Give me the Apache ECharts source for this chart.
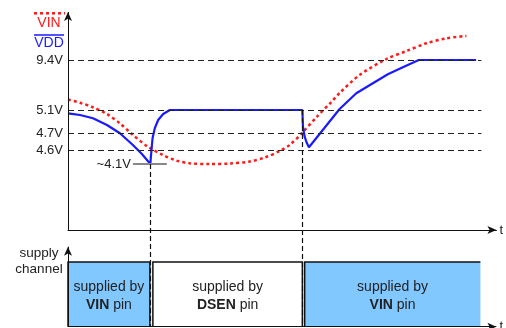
<!DOCTYPE html>
<html>
<head>
<meta charset="utf-8">
<script src="https://cdn.jsdelivr.net/npm/echarts@6/dist/echarts.min.js"></script>
<style>
html,body{margin:0;padding:0;background:#fff;}
#chart{width:506px;height:328px;}
</style>
</head>
<body>
<div id="chart"></div>
<script>
// time (arbitrary units) and level (arbitrary vertical units, 0 = upper time axis)
const vinT = [0,12,25,39,52,65,80,95,109,122,142,162,182,197,212,222,235,249,264,272,292,319,339,359,379,399];
const vinV = [130.5,127.3,122.7,116,106.7,95,83.3,75,69.3,66.7,66,66.5,68.5,72.5,79,85,97.7,113,128.3,137,155,171,179,186.7,191.7,194];
const vddT = [0,12,25,39,52,65,74,82.5,83,84.7,87,90.3,95.3,102,234.7,235.3,237,239.3,241.3,272,288.7,305.3,320.3,335.3,351.3,408.7];
const vddV = [116.7,115,111.7,105,96.7,85,76,66,73.3,92,102,110,116,120,120,103.3,93.3,86.7,82.7,121,136.7,146.7,155.7,162.7,170,170];

const levelValues = [170,120,97,80];
const levelLabels = ['9.4V','5.1V','4.7V','4.6V'];
const levelEnd = 414;
const minLevel = 66;
const minLabel = '~4.1V';
const minMarkStart = 65, minMarkEnd = 99;
const switchTimes = [82.7, 234.7];
const switchFrom = [66, 120];

const boxStart = [0, 85, 237];
const boxEnd = [82, 234.7, 413];
const boxSource = ['VIN', 'DSEN', 'VIN'];
const boxTop = -32, boxBottom = -96.7;
const boxFill = ['#80c8ff', '#ffffff', '#80c8ff'];

const FONT = 'Liberation Sans, Arial, sans-serif';
const chart = echarts.init(document.getElementById('chart'));

const refLines = [];
levelValues.forEach((v, i) => {
  refLines.push([
    {coord:[0, v], label:{show:true, position:'start', formatter: levelLabels[i], color:'#222', fontSize:13, fontFamily:FONT, distance:5}},
    {coord:[levelEnd, v]}
  ]);
});
refLines.push([
  {coord:[minMarkStart, minLevel], lineStyle:{type:'solid', color:'#888', width:2}, label:{show:true, position:'start', formatter:minLabel, color:'#222', fontSize:13, fontFamily:FONT, distance:2}},
  {coord:[minMarkEnd, minLevel]}
]);
switchTimes.forEach((t, i) => {
  refLines.push([
    {coord:[t, switchFrom[i]], lineStyle:{type:[5,3], color:'#111', width:1.2}},
    {coord:[t, boxBottom]}
  ]);
});

const axisLines = [
  [{coord:[0,0]}, {coord:[0,218]}],
  [{coord:[0,boxBottom]}, {coord:[0,-16.7]}],
  [{coord:[0,boxBottom]}, {coord:[429,boxBottom], label:{show:true, position:'end', formatter:'t', color:'#222', fontSize:13, fontFamily:FONT, distance:3}}]
];

chart.setOption({
  animation:false,
  grid:{left:68, right:9, top:10, bottom:0},
  xAxis:{type:'value', min:0, max:429,
    axisLine:{show:true, onZero:true, symbol:['none','arrow'], symbolSize:[6,9], lineStyle:{color:'#111', width:1}},
    axisTick:{show:false}, axisLabel:{show:false}, splitLine:{show:false},
    name:'t', nameLocation:'end', nameGap:3, nameTextStyle:{color:'#222', fontSize:13, fontFamily:FONT}},
  yAxis:{type:'value', min:-98, max:220, show:false, splitLine:{show:false}},
  graphic:[
    {type:'line', shape:{x1:34, y1:13.3, x2:65, y2:13.3}, style:{stroke:'#ff1a1a', lineWidth:2.5, lineDash:[3,3]}},
    {type:'text', x:49, y:23, style:{text:'VIN', fill:'#ff1a1a', font:'14px '+FONT, align:'center', verticalAlign:'middle'}},
    {type:'line', shape:{x1:34, y1:35, x2:64, y2:35}, style:{stroke:'#1a1aff', lineWidth:1.5}},
    {type:'text', x:49, y:43.5, style:{text:'VDD', fill:'#1a1aff', font:'14px '+FONT, align:'center', verticalAlign:'middle'}},
    {type:'text', x:39, y:253, style:{text:'supply', fill:'#222', font:'13.5px '+FONT, align:'center', verticalAlign:'middle'}},
    {type:'text', x:39, y:269, style:{text:'channel', fill:'#222', font:'13.5px '+FONT, align:'center', verticalAlign:'middle'}}
  ],
  series:[
    {type:'custom', z:1, silent:true, clip:false,
      data: boxStart.map((s,i)=>[s, boxEnd[i], i]),
      renderItem:function(params, api){
        const i = api.value(2);
        const p0 = api.coord([api.value(0), boxTop]);
        const p1 = api.coord([api.value(1), boxBottom]);
        const pts = [[p0[0], p1[1]], [p0[0], p0[1]], [p1[0], p0[1]]];
        if (i < boxStart.length - 1) pts.push([p1[0], p1[1]]);
        const cx = (p0[0]+p1[0])/2, cy = (p0[1]+p1[1])/2 + 2;
        return {type:'group', children:[
          {type:'rect', shape:{x:p0[0], y:p0[1], width:p1[0]-p0[0], height:p1[1]-p0[1]}, style:{fill:boxFill[i]}},
          {type:'polyline', shape:{points:pts}, style:{stroke:'#111', lineWidth:1.5, fill:null}},
          {type:'text', x:cx, y:cy, style:{
            text:'{a|supplied by}\n{b|'+boxSource[i]+'}{a| pin}',
            align:'center', verticalAlign:'middle',
            rich:{a:{fontSize:14, fontFamily:FONT, fill:'#222', color:'#222', lineHeight:18},
                  b:{fontSize:14, fontFamily:FONT, fontWeight:'bold', fill:'#222', color:'#222', lineHeight:18}}
          }}
        ]};
      }
    },
    {type:'line', data:[], z:2, silent:true,
      markLine:{silent:true, symbol:['none','none'], animation:false,
        lineStyle:{type:[6,4], color:'#222', width:1.2}, label:{show:false}, emphasis:{disabled:true},
        data: refLines}},
    {type:'line', data:[], z:5, silent:true,
      markLine:{silent:true, symbol:['none','arrow'], symbolSize:[6,9], animation:false,
        lineStyle:{type:'solid', color:'#111', width:1}, label:{show:false}, emphasis:{disabled:true},
        data: axisLines}},
    {type:'line', name:'VIN', z:3, data: vinT.map((t,i)=>[t, vinV[i]]), showSymbol:false, smooth:0.3, silent:true,
      lineStyle:{color:'#ff1a1a', width:2.5, type:[3,3]}},
    {type:'line', name:'VDD', z:4, data: vddT.map((t,i)=>[t, vddV[i]]), showSymbol:false, smooth:false, silent:true,
      lineStyle:{color:'#1a1aff', width:2.2}}
  ]
});
</script>
</body>
</html>
